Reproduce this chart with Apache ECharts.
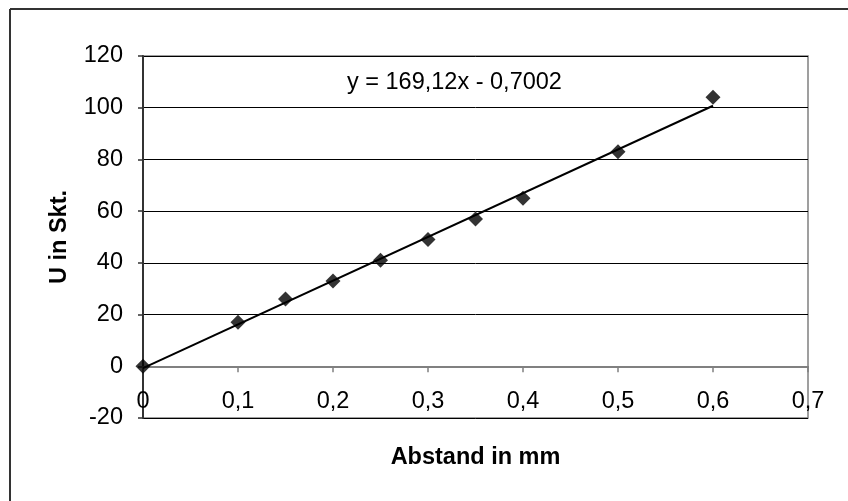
<!DOCTYPE html>
<html>
<head>
<meta charset="utf-8">
<script type="text/javascript" src="https://cdn.jsdelivr.net/npm/echarts@6/dist/echarts.min.js"></script>
<style>
html,body{margin:0;padding:0;background:#fff;}
#chart{width:848px;height:501px;}
</style>
</head>
<body>
<div id="chart"></div>
<script type="text/javascript">
// Messwerte
var abstand = [0, 0.1, 0.15, 0.2, 0.25, 0.3, 0.35, 0.4, 0.5, 0.6];
var spannung = [0, 17, 26, 33, 41, 49, 57, 65, 83, 104];
// Trendlinie y = m*x + b
var steigung = 169.12;
var achsenabschnitt = -0.7002;
var trendX = [0, 0.6];
var gleichung = 'y = 169,12x - 0,7002';

var myChart = echarts.init(document.getElementById('chart'));

var punkte = [];
for (var i = 0; i < abstand.length; i++) {
    punkte.push([abstand[i], spannung[i]]);
}
var trend = [];
for (var j = 0; j < trendX.length; j++) {
    trend.push([trendX[j], steigung * trendX[j] + achsenabschnitt]);
}

var font = 'Liberation Sans, Arial, sans-serif';
var fs = 23.5;

var option = {
    animation: false,
    backgroundColor: '#fff',
    grid: {
        left: 143,
        right: 40,
        top: 56,
        bottom: 83,
        outerBoundsMode: 'none',
        containLabel: false,
        show: true,
        borderColor: '#808080',
        borderWidth: 1.5
    },
    xAxis: {
        type: 'value',
        min: 0,
        max: 0.7,
        interval: 0.1,
        name: 'Abstand in mm',
        nameLocation: 'middle',
        nameGap: 28,
        nameTextStyle: { fontFamily: font, fontSize: fs, fontWeight: 'bold', color: '#000' },
        axisLine: { onZero: true, lineStyle: { color: '#808080', width: 2 } },
        axisTick: { show: true, length: 6, lineStyle: { color: '#808080', width: 1.5 } },
        axisLabel: {
            margin: -28,
            fontFamily: font,
            fontSize: fs,
            color: '#000',
            showMinLabel: true,
            showMaxLabel: true,
            formatter: function (v) { return String(Math.round(v * 10) / 10).replace('.', ','); }
        },
        splitLine: { show: false }
    },
    yAxis: {
        type: 'value',
        min: -20,
        max: 120,
        interval: 20,
        name: 'U in Skt.',
        nameLocation: 'middle',
        nameGap: 71,
        nameRotate: 90,
        nameTextStyle: { fontFamily: font, fontSize: fs, fontWeight: 'bold', color: '#000' },
        axisLine: { show: true, onZero: false, lineStyle: { color: '#333', width: 2 } },
        axisTick: { show: true, length: 5, lineStyle: { color: '#333', width: 1.5 } },
        axisLabel: { margin: 20, fontFamily: font, fontSize: fs, color: '#000' },
        splitLine: { show: true, lineStyle: { color: '#000', width: 1 } }
    },
    graphic: [
        { type: 'line', shape: { x1: 10, y1: 9, x2: 848, y2: 9 }, style: { stroke: '#333', lineWidth: 2 } },
        { type: 'line', shape: { x1: 10, y1: 9, x2: 10, y2: 501 }, style: { stroke: '#333', lineWidth: 2 } },
        { type: 'text', left: 347, top: 71, style: { text: gleichung, font: fs + 'px ' + font, fill: '#000' } }
    ],
    series: [
        {
            name: 'Trend',
            type: 'line',
            data: trend,
            symbol: 'none',
            lineStyle: { color: '#000', width: 2 },
            z: 2
        },
        {
            name: 'Messwerte',
            type: 'scatter',
            data: punkte,
            symbol: 'diamond',
            symbolSize: 15,
            itemStyle: { color: '#000' },
            z: 3
        }
    ]
};
myChart.setOption(option);
</script>
</body>
</html>
